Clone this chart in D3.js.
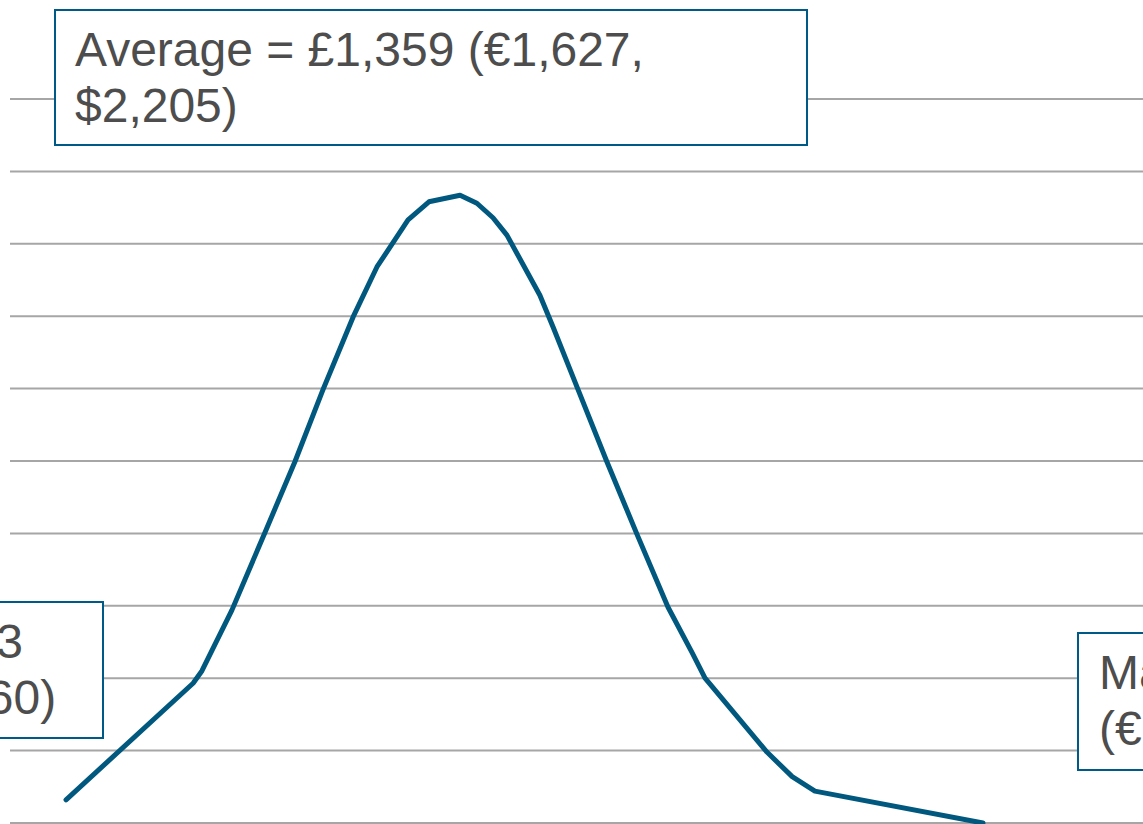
<!DOCTYPE html>
<html>
<head>
<meta charset="utf-8">
<script src="https://cdn.jsdelivr.net/npm/d3@7"></script>
<style>
  html, body { margin: 0; padding: 0; background: #fff; }
  svg { display: block; }
  .grid line { stroke: #a6a6a6; stroke-width: 2; }
  .note rect { fill: #fff; stroke: #005a87; stroke-width: 2; }
  .note text { font-family: "Liberation Sans", Arial, sans-serif; font-size: 48px; fill: #4d4d4d; }
</style>
</head>
<body>
<div id="chart"></div>
<script>
"use strict";

// cost (£) along the x axis, share (%) up the y axis
const costs = [283, 630, 654, 736, 826, 908, 985, 1067, 1132, 1217, 1274, 1359, 1405, 1449, 1487,
    1577, 1613, 1681, 1760, 1842, 1927, 1993, 2028, 2197, 2266, 2328, 2787];
const shares = [0.32, 1.93, 2.10, 2.94, 4.01, 4.99, 5.99, 6.99, 7.68, 8.33, 8.58, 8.67, 8.56, 8.36, 8.12,
    7.29, 6.85, 5.99, 4.99, 3.99, 2.98, 2.35, 2.00, 0.98, 0.64, 0.44, 0.0];
const gridTicks = [0, 1, 2, 3, 4, 5, 6, 7, 8, 9, 10];

const noteAverage = ["Average = £1,359 (€1,627,", "$2,205)"];
const noteMin = ["Min = £283", "(€339, $460)"];
const noteMax = ["Max = £2,787", "(€3,336, $4,520)"];

const width = 1143,
    height = 824;

const x = d3.scaleLinear()
    .domain([130, 3224])
    .range([10, width]);

const y = d3.scaleLinear()
    .domain([0, 10])
    .range([823, 99]);

const svg = d3.select("#chart")
    .append("svg")
    .attr("width", width)
    .attr("height", height);

// horizontal gridlines
svg.append("g")
    .attr("class", "grid")
    .selectAll("line")
    .data(gridTicks)
    .enter()
    .append("line")
    .attr("x1", x.range()[0])
    .attr("x2", x.range()[1])
    .attr("y1", d => y(d))
    .attr("y2", d => y(d));

const points = costs.map((c, i) => ({ cost: c, share: shares[i] }));

const line = d3.line()
    .x(d => x(d.cost))
    .y(d => y(d.share))
    .curve(d3.curveLinear);

svg.append("path")
    .datum(points)
    .attr("d", line)
    .attr("fill", "none")
    .attr("stroke", "#00587f")
    .attr("stroke-width", 5)
    .attr("stroke-linejoin", "round")
    .attr("stroke-linecap", "round");

// text boxes (min and max run off the edges, as in the original)
function addNote(lines, box) {
    const g = svg.append("g").attr("class", "note");
    g.append("rect")
        .attr("x", box.x)
        .attr("y", box.y)
        .attr("width", box.w)
        .attr("height", box.h);
    g.selectAll("text")
        .data(lines)
        .enter()
        .append("text")
        .attr("x", box.tx)
        .attr("y", (d, i) => box.y + 56 + i * 56)
        .text(d => d);
}

addNote(noteAverage, { x: 55, y: 10, w: 752, h: 135, tx: 75 });
addNote(noteMin, { x: -236, y: 602, w: 339, h: 136, tx: -216 });
addNote(noteMax, { x: 1078, y: 633, w: 440, h: 137, tx: 1099 });
</script>
</body>
</html>
